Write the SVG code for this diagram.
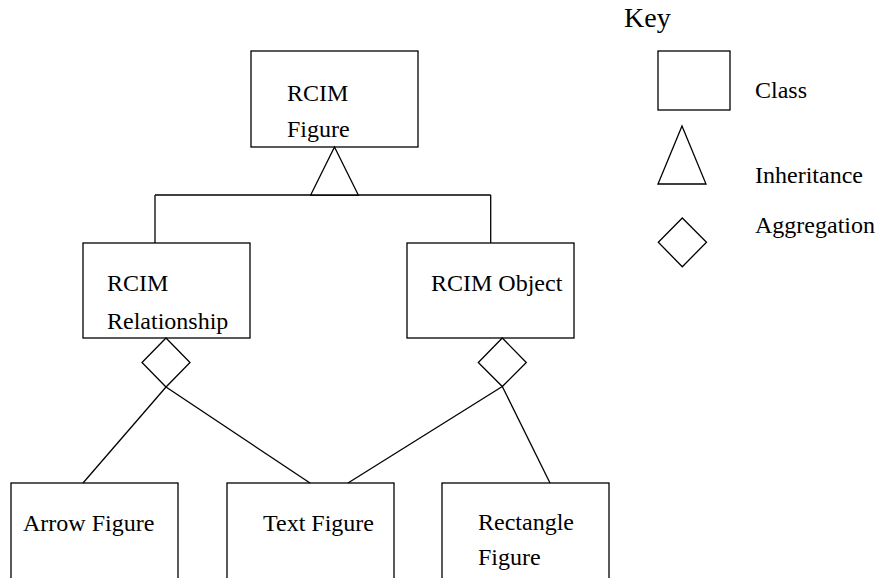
<svg xmlns="http://www.w3.org/2000/svg" width="878" height="578" viewBox="0 0 878 578" font-family="'Liberation Serif', 'Times New Roman', Times, 'DejaVu Serif', serif">
<style>
.box{fill:none;stroke:#000;stroke-width:1.3}
.ln{fill:none;stroke:#000;stroke-width:1.3}
.sym{fill:#fff;stroke:#000;stroke-width:1.3}
text{font-family:'Liberation Serif', 'Times New Roman', Times, 'DejaVu Serif', serif;font-size:24px;fill:#000}
</style>
<rect width="878" height="578" fill="#fff"/>
<g id="connectors">
<line class="ln" x1="155" y1="195" x2="490.7" y2="195"/>
<line class="ln" x1="155" y1="195" x2="155" y2="243"/>
<line class="ln" x1="490.7" y1="195" x2="490.7" y2="243"/>
<polygon class="sym" points="334.5,147 358.3,195 310.7,195"/>
<line class="ln" x1="166" y1="387" x2="83" y2="483"/>
<line class="ln" x1="166" y1="387" x2="310" y2="483"/>
<line class="ln" x1="502.3" y1="386.5" x2="348" y2="483"/>
<line class="ln" x1="502.3" y1="386.5" x2="550" y2="483"/>
<polygon class="sym" points="166,338 190,362.5 166,387 142,362.5"/>
<polygon class="sym" points="502.3,338 526.3,362.5 502.3,386.5 478.3,362.5"/>
</g>
<g id="rcim-figure">
<rect class="box" x="251" y="51" width="167" height="96"/>
<text x="287" y="101">RCIM</text>
<text x="287" y="137">Figure</text>
</g>
<g id="rcim-relationship">
<rect class="box" x="83" y="243" width="167" height="95"/>
<text x="107" y="291">RCIM</text>
<text x="107" y="329">Relationship</text>
</g>
<g id="rcim-object">
<rect class="box" x="407" y="243" width="167" height="95"/>
<text x="431" y="291">RCIM Object</text>
</g>
<g id="arrow-figure">
<rect class="box" x="11" y="483" width="167" height="120"/>
<text x="23" y="531">Arrow Figure</text>
</g>
<g id="text-figure">
<rect class="box" x="227" y="483" width="167" height="120"/>
<text x="263" y="531">Text Figure</text>
</g>
<g id="rectangle-figure">
<rect class="box" x="442" y="483" width="167" height="120"/>
<text x="478" y="530">Rectangle</text>
<text x="478" y="565">Figure</text>
</g>
<g id="key">
<text x="624" y="27" style="font-size:28px">Key</text>
<rect class="box" x="658" y="51" width="72" height="59"/>
<text x="755" y="98">Class</text>
<polygon class="sym" points="682,126 706,184 658,184"/>
<text x="755" y="183">Inheritance</text>
<polygon class="sym" points="682.3,218 706.5,242.3 682.3,266.7 658.3,242.3"/>
<text x="755" y="233">Aggregation</text>
</g>
</svg>
